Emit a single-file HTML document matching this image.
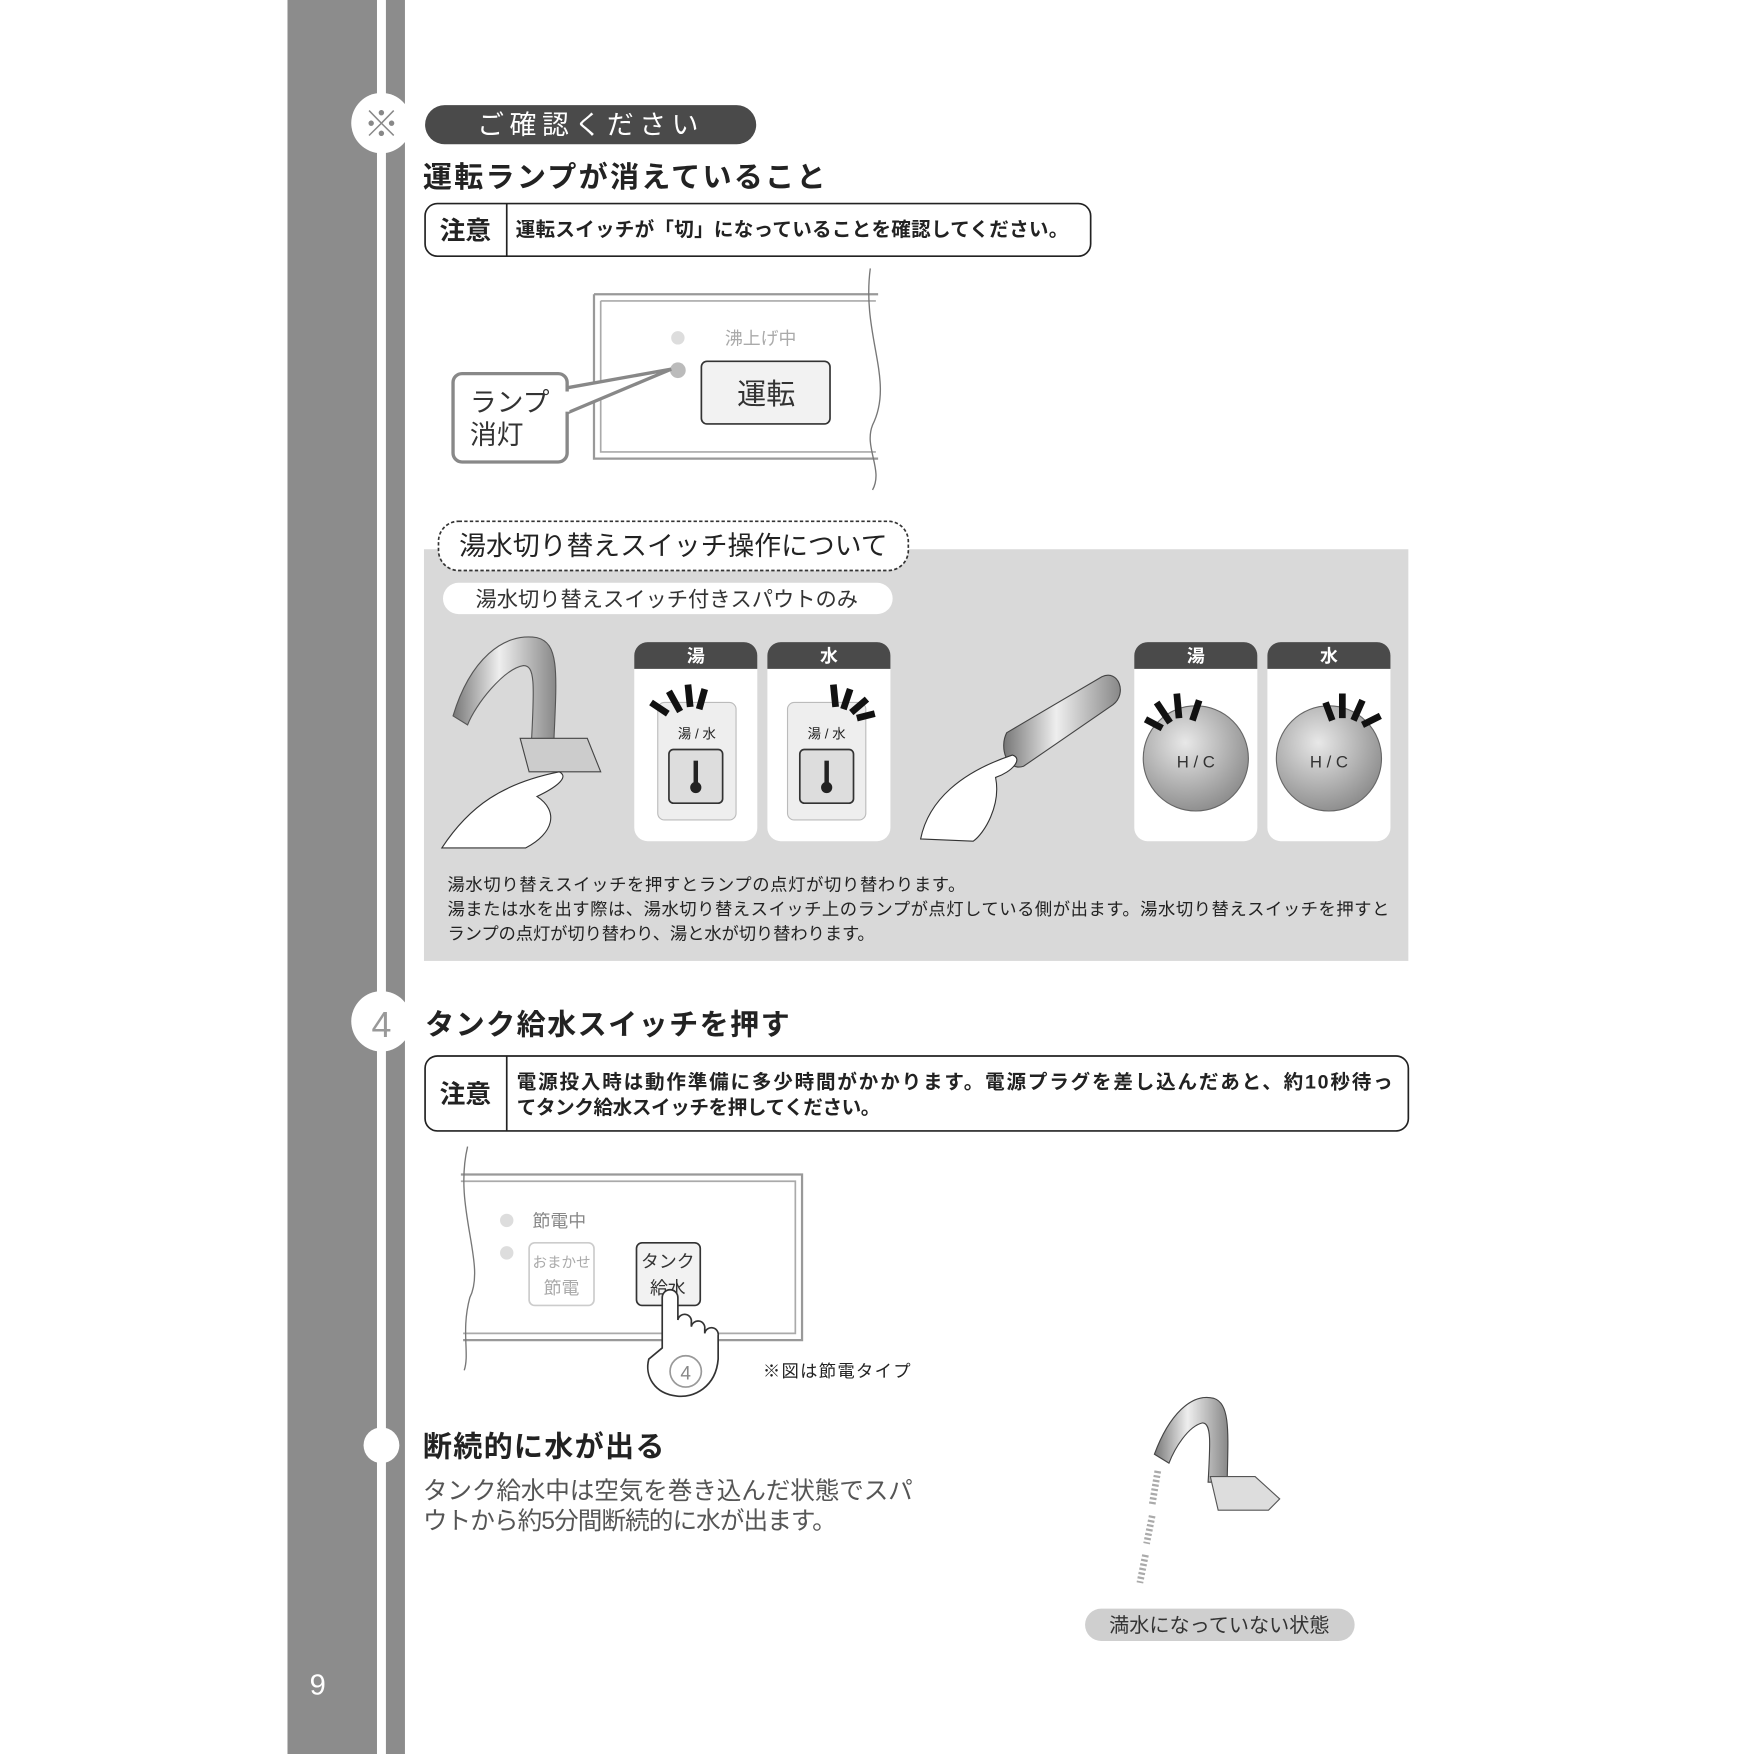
<!DOCTYPE html>
<html><head><meta charset="utf-8"><style>
html,body{margin:0;padding:0;background:#fff;}
svg{display:block;}
text{font-family:"Liberation Sans","Noto Sans CJK JP",sans-serif;}
</style></head><body>
<svg width="1754" height="1754" viewBox="0 0 1568 1568" xmlns="http://www.w3.org/2000/svg">
<defs>
<linearGradient id="met" x1="0" y1="0" x2="1" y2="0"><stop offset="0" stop-color="#777"/><stop offset=".45" stop-color="#eee"/><stop offset="1" stop-color="#888"/></linearGradient>
<radialGradient id="knob" cx=".4" cy=".35" r=".7"><stop offset="0" stop-color="#e8e8e8"/><stop offset="1" stop-color="#8a8a8a"/></radialGradient>
</defs>
<rect x="257" y="0" width="80" height="1568" fill="#8c8c8c"/>
<rect x="345" y="0" width="17" height="1568" fill="#8c8c8c"/>
<text x="284" y="1515" font-size="26" fill="#fff" text-anchor="middle">9</text>

<circle cx="341" cy="110" r="27" fill="#fff"/>
<text x="341" y="122" font-size="32" fill="#888" text-anchor="middle">※</text>
<rect x="380" y="94" width="296" height="35" rx="17.5" fill="#4a4a4a"/>
<text x="528" y="120" font-size="24" fill="#fff" text-anchor="middle" letter-spacing="5">ご確認ください</text>
<text x="378" y="167" font-size="26" font-weight="bold" fill="#222" textLength="360">運転ランプが消えていること</text>
<rect x="380" y="182" width="595" height="47" rx="11" fill="#fff" stroke="#222" stroke-width="1.5"/>
<line x1="453" y1="182" x2="453" y2="229" stroke="#222" stroke-width="1.5"/>
<text x="416" y="214" font-size="23" font-weight="bold" text-anchor="middle" fill="#222">注意</text>
<text x="461" y="211" font-size="17.5" font-weight="bold" fill="#222" textLength="494">運転スイッチが「切」になっていることを確認してください。</text>

<path d="M531 263 H785 M531 263 V410 H785" fill="none" stroke="#999" stroke-width="2"/>
<path d="M537 269 H783 M537 269 V404 H783" fill="none" stroke="#aaa" stroke-width="1.5"/>
<path d="M778 240 C770 300 800 340 780 380 C772 400 790 420 780 438" fill="none" stroke="#777" stroke-width="1.2"/>
<circle cx="606" cy="302" r="6" fill="#ddd"/>
<circle cx="606" cy="331" r="7" fill="#bbb"/>
<text x="648" y="308" font-size="16" fill="#aaa">沸上げ中</text>
<rect x="627" y="323" width="115" height="56" rx="5" fill="#f2f2f2" stroke="#333" stroke-width="1.5"/>
<text x="685" y="361" font-size="26" fill="#333" text-anchor="middle">運転</text>
<path d="M505 347 L600 330 L505 370" fill="#fff" stroke="#888" stroke-width="3"/>
<rect x="405" y="334" width="102" height="79" rx="8" fill="#fff" stroke="#888" stroke-width="3"/>
<rect x="503" y="350" width="6" height="18" fill="#fff"/>
<text x="420" y="368" font-size="24" fill="#333">ランプ</text>
<text x="420" y="397" font-size="24" fill="#333">消灯</text>

<rect x="379" y="491" width="880" height="368" fill="#d9d9d9"/>
<rect x="392" y="466" width="420" height="44" rx="18" fill="#fff" stroke="#333" stroke-width="1.5" stroke-dasharray="3 2"/>
<text x="602" y="496" font-size="24" fill="#222" text-anchor="middle">湯水切り替えスイッチ操作について</text>
<rect x="396" y="521" width="402" height="28" rx="14" fill="#fff"/>
<text x="596" y="542" font-size="19" fill="#333" text-anchor="middle">湯水切り替えスイッチ付きスパウトのみ</text>

<path d="M405 640 C420 590 450 565 480 570 C500 575 498 600 495 665 L475 665 C478 610 478 595 468 595 C450 598 425 630 418 648 Z" fill="url(#met)" stroke="#555"/>
<path d="M465 660 h60 l12 30 h-64 z" fill="#ccc" stroke="#444"/>
<path d="M395 758 C420 720 450 700 500 690 C510 695 495 705 480 712 C500 725 495 745 470 758 Z" fill="#fff" stroke="#333"/>

<g>
<rect x="567" y="574" width="110" height="178" rx="12" fill="#fff"/>
<path d="M567 598 V586 a12 12 0 0 1 12 -12 H665 a12 12 0 0 1 12 12 V598 Z" fill="#4a4a4a"/>
<text x="622" y="592" font-size="16" font-weight="bold" fill="#fff" text-anchor="middle">湯</text>
<rect x="588" y="628" width="70" height="105" rx="6" fill="#eee" stroke="#bbb"/>
<text x="623" y="660" font-size="12" fill="#222" text-anchor="middle">湯 / 水</text>
<rect x="598" y="670" width="48" height="48" rx="4" fill="#ddd" stroke="#333" stroke-width="1.5"/>
<rect x="620" y="680" width="4" height="22" fill="#222"/><circle cx="622" cy="704" r="5" fill="#222"/>
<path d="M582 628 l15 10 M598 618 l10 18 M615 612 l2 20 M630 616 l-5 18" stroke="#111" stroke-width="6"/>

<rect x="686" y="574" width="110" height="178" rx="12" fill="#fff"/>
<path d="M686 598 V586 a12 12 0 0 1 12 -12 H784 a12 12 0 0 1 12 12 V598 Z" fill="#4a4a4a"/>
<text x="741" y="592" font-size="16" font-weight="bold" fill="#fff" text-anchor="middle">水</text>
<rect x="704" y="628" width="70" height="105" rx="6" fill="#eee" stroke="#bbb"/>
<text x="739" y="660" font-size="12" fill="#222" text-anchor="middle">湯 / 水</text>
<rect x="715" y="670" width="48" height="48" rx="4" fill="#ddd" stroke="#333" stroke-width="1.5"/>
<rect x="737" y="680" width="4" height="22" fill="#222"/><circle cx="739" cy="704" r="5" fill="#222"/>
<path d="M745 612 l2 20 M760 616 l-6 18 M775 625 l-14 12 M782 638 l-16 4" stroke="#111" stroke-width="6"/>

<path d="M900 655 L985 605 C1000 598 1008 620 995 630 L915 685 C900 690 893 668 900 655 Z" fill="url(#met)" stroke="#444"/>
<path d="M823 750 C830 715 860 690 905 675 C915 678 905 690 890 695 C895 720 880 745 870 752 Z" fill="#fff" stroke="#333"/>

<rect x="1014" y="574" width="110" height="178" rx="12" fill="#fff"/>
<path d="M1014 598 V586 a12 12 0 0 1 12 -12 H1112 a12 12 0 0 1 12 12 V598 Z" fill="#4a4a4a"/>
<text x="1069" y="592" font-size="16" font-weight="bold" fill="#fff" text-anchor="middle">湯</text>
<circle cx="1069" cy="678" r="47" fill="url(#knob)" stroke="#666"/>
<text x="1069" y="686" font-size="15" fill="#333" text-anchor="middle">H / C</text>
<path d="M1024 643 l15 8 M1034 628 l12 18 M1052 620 l2 22 M1072 626 l-6 18" stroke="#111" stroke-width="6"/>

<rect x="1133" y="574" width="110" height="178" rx="12" fill="#fff"/>
<path d="M1133 598 V586 a12 12 0 0 1 12 -12 H1231 a12 12 0 0 1 12 12 V598 Z" fill="#4a4a4a"/>
<text x="1188" y="592" font-size="16" font-weight="bold" fill="#fff" text-anchor="middle">水</text>
<circle cx="1188" cy="678" r="47" fill="url(#knob)" stroke="#666"/>
<text x="1188" y="686" font-size="15" fill="#333" text-anchor="middle">H / C</text>
<path d="M1185 628 l6 16 M1200 620 l0 22 M1218 626 l-8 18 M1234 640 l-16 8" stroke="#111" stroke-width="6"/>
</g>
<text x="400" y="796" font-size="15.5" fill="#222" textLength="463">湯水切り替えスイッチを押すとランプの点灯が切り替わります。</text>
<text x="400" y="818" font-size="15.5" fill="#222" textLength="842">湯または水を出す際は、湯水切り替えスイッチ上のランプが点灯している側が出ます。湯水切り替えスイッチを押すと</text>
<text x="400" y="840" font-size="15.5" fill="#222" textLength="382">ランプの点灯が切り替わり、湯と水が切り替わります。</text>

<circle cx="341" cy="913" r="27" fill="#fff"/>
<text x="341" y="927" font-size="32" fill="#999" text-anchor="middle">4</text>
<text x="380" y="925" font-size="26" font-weight="bold" fill="#222" textLength="326">タンク給水スイッチを押す</text>
<rect x="380" y="944" width="879" height="67" rx="11" fill="#fff" stroke="#222" stroke-width="1.5"/>
<line x1="453" y1="944" x2="453" y2="1011" stroke="#222" stroke-width="1.5"/>
<text x="416" y="986" font-size="23" font-weight="bold" text-anchor="middle" fill="#222">注意</text>
<text x="462" y="973" font-size="17.5" font-weight="bold" fill="#222" textLength="783">電源投入時は動作準備に多少時間がかかります。電源プラグを差し込んだあと、約10秒待っ</text>
<text x="462" y="996" font-size="17.5" font-weight="bold" fill="#222" textLength="325">てタンク給水スイッチを押してください。</text>

<path d="M412 1050 H717 V1198 H414" fill="none" stroke="#999" stroke-width="2"/>
<path d="M412 1056 H711 V1192 H414" fill="none" stroke="#aaa" stroke-width="1.5"/>
<path d="M418 1025 C405 1080 435 1130 420 1160 C412 1190 420 1210 415 1225" fill="none" stroke="#777" stroke-width="1.2"/>
<circle cx="453" cy="1091" r="6" fill="#ddd"/>
<circle cx="453" cy="1120" r="6" fill="#ddd"/>
<text x="476" y="1097" font-size="16" fill="#888">節電中</text>
<rect x="473" y="1111" width="58" height="56" rx="5" fill="#fff" stroke="#ccc" stroke-width="1.5"/>
<text x="502" y="1133" font-size="13" fill="#aaa" text-anchor="middle">おまかせ</text>
<text x="502" y="1157" font-size="16" fill="#aaa" text-anchor="middle">節電</text>
<rect x="569" y="1111" width="57" height="56" rx="5" fill="#f2f2f2" stroke="#333" stroke-width="1.5"/>
<text x="597" y="1133" font-size="16" fill="#333" text-anchor="middle">タンク</text>
<text x="597" y="1157" font-size="16" fill="#333" text-anchor="middle">給水</text>
<path d="M592 1205 V1160 a7 7 0 0 1 14 0 V1180 a6 6 0 0 1 12 2 V1186 a6 6 0 0 1 12 2 V1192 a6 6 0 0 1 12 2 V1215 C640 1240 620 1250 605 1248 C585 1246 576 1230 580 1215 Z" fill="#fff" stroke="#333" stroke-width="1.5"/>
<circle cx="613" cy="1226" r="14" fill="#fff" stroke="#999" stroke-width="1.5"/>
<text x="613" y="1233" font-size="17" fill="#888" text-anchor="middle">4</text>
<text x="682" y="1231" font-size="15.5" fill="#222" textLength="132">※図は節電タイプ</text>

<circle cx="341" cy="1292" r="16" fill="#fff"/>
<text x="378" y="1302" font-size="26" font-weight="bold" fill="#222" textLength="216">断続的に水が出る</text>
<text x="378" y="1340" font-size="22" fill="#555" textLength="438">タンク給水中は空気を巻き込んだ状態でスパ</text>
<text x="378" y="1367" font-size="22" fill="#555" textLength="370">ウトから約5分間断続的に水が出ます。</text>
<path d="M1032 1300 C1045 1265 1065 1245 1085 1250 C1100 1255 1098 1280 1097 1325 L1080 1325 C1082 1290 1083 1272 1075 1272 C1062 1275 1050 1295 1045 1308 Z" fill="url(#met)" stroke="#444"/>
<path d="M1082 1320 h40 l22 20 l-10 10 h-45 z" fill="#ddd" stroke="#555"/>
<path d="M1035 1315 l-5 30 M1030 1355 l-5 25 M1024 1390 l-5 25" stroke="#aaa" stroke-width="6" stroke-dasharray="2 2"/>
<rect x="970" y="1438" width="241" height="29" rx="14.5" fill="#cfcfcf"/>
<text x="1090" y="1459" font-size="18" fill="#333" text-anchor="middle">満水になっていない状態</text>
</svg>
</body></html>
